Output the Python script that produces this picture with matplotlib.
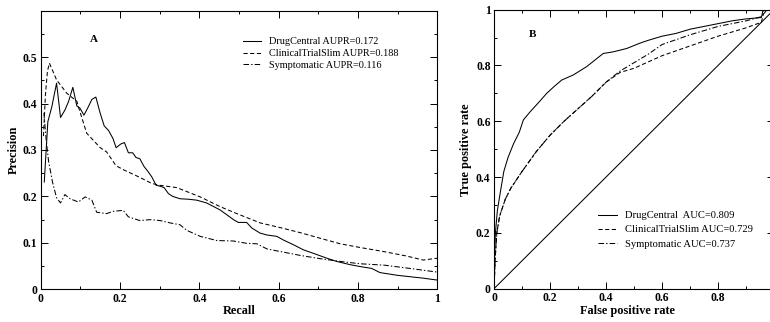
import matplotlib
matplotlib.use("Agg")
import matplotlib.pyplot as plt
from matplotlib.ticker import MultipleLocator

# ---------------- data ----------------
# Panel A: precision-recall
dc_recall = [0.009, 0.018, 0.028, 0.040, 0.050, 0.061, 0.070, 0.081, 0.091, 0.099, 0.109, 0.120,
             0.129, 0.139, 0.150, 0.160, 0.171, 0.182, 0.190, 0.202, 0.211, 0.221, 0.232, 0.240,
             0.250, 0.260, 0.271, 0.280, 0.291, 0.301, 0.311, 0.322, 0.333, 0.351, 0.372, 0.393,
             0.418, 0.452, 0.486, 0.498, 0.519, 0.532, 0.553, 0.570, 0.595, 0.612, 0.637, 0.662,
             0.692, 0.721, 0.746, 0.780, 0.805, 0.834, 0.855, 0.900, 0.964, 0.998]
dc_precision = [0.231, 0.361, 0.393, 0.444, 0.370, 0.386, 0.404, 0.435, 0.395, 0.390, 0.375, 0.393,
                0.409, 0.414, 0.379, 0.352, 0.342, 0.325, 0.305, 0.313, 0.316, 0.294, 0.294, 0.284,
                0.281, 0.265, 0.253, 0.242, 0.224, 0.222, 0.219, 0.206, 0.200, 0.195, 0.194, 0.192,
                0.186, 0.171, 0.150, 0.144, 0.144, 0.132, 0.121, 0.117, 0.114, 0.106, 0.096, 0.085,
                0.076, 0.067, 0.060, 0.053, 0.049, 0.045, 0.036, 0.030, 0.024, 0.020]

ct_recall = [0.007, 0.012, 0.017, 0.022, 0.040, 0.066, 0.091, 0.095, 0.116, 0.150, 0.166, 0.190,
             0.212, 0.245, 0.280, 0.300, 0.343, 0.402, 0.452, 0.503, 0.553, 0.603, 0.654, 0.704,
             0.755, 0.805, 0.866, 0.920, 0.964, 1.000]
ct_precision = [0.330, 0.420, 0.470, 0.487, 0.451, 0.422, 0.405, 0.393, 0.336, 0.305, 0.296, 0.266,
                0.256, 0.243, 0.228, 0.224, 0.219, 0.199, 0.178, 0.160, 0.143, 0.133, 0.122, 0.110,
                0.098, 0.090, 0.081, 0.072, 0.063, 0.067]

sy_recall = [0.008, 0.014, 0.020, 0.030, 0.040, 0.050, 0.061, 0.074, 0.095, 0.112, 0.129, 0.141,
             0.166, 0.183, 0.208, 0.221, 0.250, 0.276, 0.301, 0.326, 0.351, 0.368, 0.402, 0.444,
             0.486, 0.519, 0.545, 0.570, 0.612, 0.654, 0.704, 0.755, 0.805, 0.866, 0.930, 1.000]
sy_precision = [0.380, 0.320, 0.275, 0.230, 0.197, 0.186, 0.204, 0.195, 0.188, 0.199, 0.192, 0.166,
                0.163, 0.168, 0.170, 0.156, 0.148, 0.150, 0.148, 0.143, 0.139, 0.127, 0.114, 0.105,
                0.104, 0.099, 0.098, 0.087, 0.080, 0.073, 0.066, 0.060, 0.055, 0.052, 0.045, 0.037]

# Panel B: ROC
dc_fpr = [0.0, 0.002, 0.005, 0.012, 0.020, 0.035, 0.050, 0.070, 0.080, 0.090, 0.105, 0.129, 0.160,
          0.188, 0.215, 0.242, 0.283, 0.331, 0.390, 0.426, 0.474, 0.521, 0.550, 0.600, 0.650,
          0.700, 0.750, 0.800, 0.850, 0.900, 0.955, 0.960, 0.975, 1.0]
dc_tpr = [0.0, 0.120, 0.200, 0.280, 0.330, 0.420, 0.470, 0.520, 0.540, 0.560, 0.605, 0.634, 0.668,
          0.700, 0.725, 0.748, 0.766, 0.796, 0.843, 0.849, 0.861, 0.880, 0.890, 0.905, 0.915,
          0.930, 0.940, 0.950, 0.960, 0.967, 0.972, 0.995, 1.0, 1.0]

ct_fpr = [0.0, 0.005, 0.010, 0.020, 0.040, 0.060, 0.080, 0.100, 0.150, 0.200, 0.250, 0.300, 0.350,
          0.400, 0.450, 0.500, 0.600, 0.700, 0.800, 0.900, 0.955, 0.962, 0.980, 1.0]
ct_tpr = [0.0, 0.120, 0.200, 0.260, 0.320, 0.360, 0.390, 0.420, 0.490, 0.550, 0.600, 0.645, 0.690,
          0.740, 0.775, 0.790, 0.835, 0.870, 0.905, 0.935, 0.955, 0.985, 1.0, 1.0]

sy_fpr = [0.0, 0.005, 0.010, 0.020, 0.040, 0.060, 0.080, 0.100, 0.150, 0.200, 0.250, 0.300, 0.350,
          0.400, 0.450, 0.500, 0.550, 0.600, 0.700, 0.800, 0.900, 0.955, 0.975, 1.0]
sy_tpr = [0.0, 0.120, 0.200, 0.260, 0.320, 0.360, 0.390, 0.420, 0.490, 0.550, 0.600, 0.645, 0.690,
          0.740, 0.780, 0.810, 0.840, 0.875, 0.910, 0.940, 0.960, 0.975, 1.0, 1.0]

diag = [0.0, 1.0]

pr_labels = ["DrugCentral AUPR=0.172", "ClinicalTrialSlim AUPR=0.188", "Symptomatic AUPR=0.116"]
roc_labels = ["DrugCentral  AUC=0.809", "ClinicalTrialSlim AUC=0.729", "Symptomatic AUC=0.737"]

a_xticks = [0, 0.2, 0.4, 0.6, 0.8, 1.0]
a_xticklabels = ["0", "0.2", "0.4", "0.6", "0.8", "1"]
a_yticks = [0, 0.1, 0.2, 0.3, 0.4, 0.5]
a_yticklabels = ["0", "0.1", "0.2", "0.3", "0.4", "0.5"]
b_xticks = [0, 0.2, 0.4, 0.6, 0.8, 1.0]
b_xticklabels = ["0", "0.2", "0.4", "0.6", "0.8", ""]
b_yticks = [0, 0.2, 0.4, 0.6, 0.8, 1.0]
b_yticklabels = ["0", "0.2", "0.4", "0.6", "0.8", "1"]

# ---------------- style ----------------
plt.rcParams['font.family'] = ['Liberation Serif', 'DejaVu Serif']
plt.rcParams['lines.scale_dashes'] = False
plt.rcParams['axes.linewidth'] = 0.8

DASH = (0, (3.0, 1.8))
DASHDOT = (0, (4.0, 1.5, 1.0, 1.5))
LW = 0.75
W, H = 770, 322

fig = plt.figure(figsize=(W / 100, H / 100), dpi=100)

axA = fig.add_axes([40.7 / W, (H - 289.3) / H, (437.5 - 40.7) / W, (289.3 - 10.7) / H])
axB = fig.add_axes([494 / W, (H - 288.7) / H, 280 / W, (288.7 - 9.7) / H])

axA.plot(dc_recall, dc_precision, color='black', lw=LW, ls='-', label=pr_labels[0])
axA.plot(ct_recall, ct_precision, color='black', lw=LW, ls=DASH, label=pr_labels[1])
axA.plot(sy_recall, sy_precision, color='black', lw=LW, ls=DASHDOT, label=pr_labels[2])

axB.plot(dc_fpr, dc_tpr, color='black', lw=LW, ls='-', label=roc_labels[0])
axB.plot(ct_fpr, ct_tpr, color='black', lw=LW, ls=DASH, label=roc_labels[1])
axB.plot(sy_fpr, sy_tpr, color='black', lw=LW, ls=DASHDOT, label=roc_labels[2])
axB.plot(diag, diag, color='black', lw=LW, ls='-')

axA.set_xlim(0, 1)
axA.set_ylim(0, 0.6)
axB.set_xlim(0, 1)
axB.set_ylim(0, 1)

TFS = 8.4
for ax, xt, xtl, yt, ytl, xminor, yminor in (
        (axA, a_xticks, a_xticklabels, a_yticks, a_yticklabels, 0.1, 0.05),
        (axB, b_xticks, b_xticklabels, b_yticks, b_yticklabels, 0.1, 0.1)):
    ax.set_xticks(xt)
    ax.set_xticklabels(xtl, fontweight='bold', fontsize=TFS)
    ax.set_yticks(yt)
    ax.set_yticklabels(ytl, fontweight='bold', fontsize=TFS)
    ax.xaxis.set_minor_locator(MultipleLocator(xminor))
    ax.yaxis.set_minor_locator(MultipleLocator(yminor))
    ax.tick_params(which='both', direction='in', top=True, right=True, width=0.7, colors='black')
    ax.tick_params(which='major', length=5, pad=2.5)
    ax.tick_params(which='minor', length=2.5)

axB.spines['right'].set_visible(False)

LFS = 8.8
axA.set_xlabel("Recall", fontweight='bold', fontsize=LFS)
axA.set_ylabel("Precision", fontweight='bold', fontsize=LFS)
axA.xaxis.set_label_coords(0.5, (289.3 - 305) / 278.6)
axA.yaxis.set_label_coords((20 - 40.7) / 397, 0.5)

axB.set_xlabel("False positive rate", fontweight='bold', fontsize=LFS)
axB.set_ylabel("True positive rate", fontweight='bold', fontsize=LFS)
axB.xaxis.set_label_coords((627 - 494) / 280, (288.7 - 305) / 279)
axB.yaxis.set_label_coords((471.5 - 494) / 280, 0.5)

axA.text(0.134, 0.895, "A", transform=axA.transAxes, fontweight='bold', fontsize=8,
         ha='center', va='center')
axB.text(0.136, 0.911, "B", transform=axB.transAxes, fontweight='bold', fontsize=8,
         ha='center', va='center')

axA.legend(loc='upper left', bbox_to_anchor=(0.51, 0.905), frameon=False, fontsize=7.4,
           borderpad=0, borderaxespad=0, handlelength=1.75, handletextpad=0.75,
           labelspacing=0.25)
axB.legend(loc='upper left', bbox_to_anchor=(0.372, 0.279), frameon=False, fontsize=7.6,
           borderpad=0, borderaxespad=0, handlelength=1.75, handletextpad=0.75,
           labelspacing=0.45)

fig.savefig("out.png", dpi=100)
